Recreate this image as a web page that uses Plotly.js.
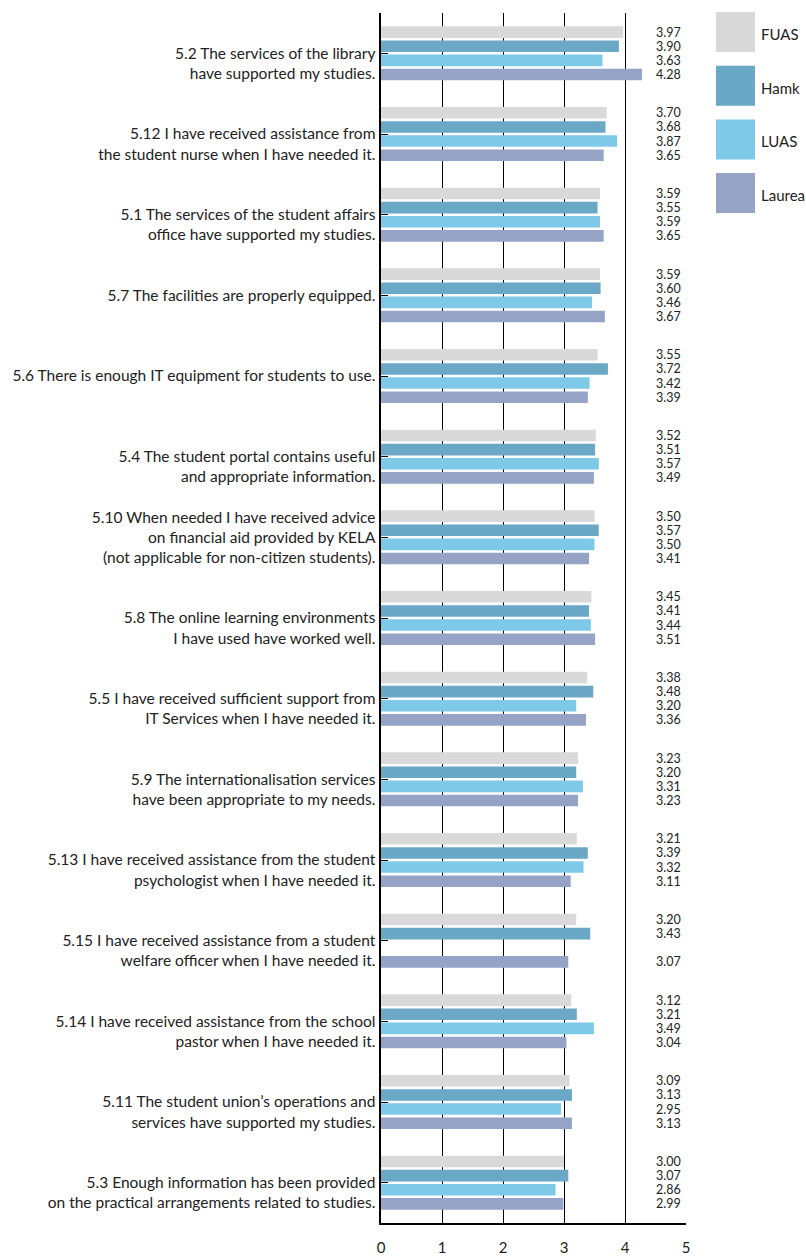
<!DOCTYPE html>
<html>
<head>
<meta charset="utf-8">
<script src="https://cdn.plot.ly/plotly-3.0.1.min.js"></script>
<style>html,body{margin:0;padding:0;background:#fff;}#chart{width:806px;height:1256px;}</style>
</head>
<body>
<div id="chart"></div>
<script>
const categories = ["5.2","5.12","5.1","5.7","5.6","5.4","5.10","5.8","5.5","5.9","5.13","5.15","5.14","5.11","5.3"];
const labels = [
  "5.2 The services of the library<br>have supported my studies.",
  "5.12 I have received assistance from<br>the student nurse when I have needed it.",
  "5.1 The services of the student affairs<br>office have supported my studies.",
  "5.7 The facilities are properly equipped.",
  "5.6 There is enough IT equipment for students to use.",
  "5.4 The student portal contains useful<br>and appropriate information.",
  "5.10 When needed I have received advice<br>on financial aid provided by KELA<br>(not applicable for non-citizen students).",
  "5.8 The online learning environments<br>I have used have worked well.",
  "5.5 I have received sufficient support from<br>IT Services when I have needed it.",
  "5.9 The internationalisation services<br>have been appropriate to my needs.",
  "5.13 I have received assistance from the student<br>psychologist when I have needed it.",
  "5.15 I have received assistance from a student<br>welfare officer when I have needed it.",
  "5.14 I have received assistance from the school<br>pastor when I have needed it.",
  "5.11 The student union’s operations and<br>services have supported my studies.",
  "5.3 Enough information has been provided<br>on the practical arrangements related to studies."
];
const seriesNames = ["FUAS","Hamk","LUAS","Laurea"];
const FUAS   = [3.97,3.70,3.59,3.59,3.55,3.52,3.50,3.45,3.38,3.23,3.21,3.20,3.12,3.09,3.00];
const Hamk   = [3.90,3.68,3.55,3.60,3.72,3.51,3.57,3.41,3.48,3.20,3.39,3.43,3.21,3.13,3.07];
const LUAS   = [3.63,3.87,3.59,3.46,3.42,3.57,3.50,3.44,3.20,3.31,3.32,null,3.49,2.95,2.86];
const Laurea = [4.28,3.65,3.65,3.67,3.39,3.49,3.41,3.51,3.36,3.23,3.11,3.07,3.04,3.13,2.99];
const xTicks = [0,1,2,3,4,5];
const colors = ["#d9d9d9","#6aa8c6","#7ec8e8","#94a3c6"];

const seriesValues = [FUAS,Hamk,LUAS,Laurea];
const FONT = "Lato, 'Open Sans', sans-serif";

// two-line labels get a leading blank line so the first line sits at the group centre
const tickText = labels.map(l => {
  const n = l.split("<br>").length;
  return n === 2 ? " <br>" + l : l;
});

const traces = seriesValues.map((vals, k) => ({
  type: "bar",
  orientation: "h",
  name: seriesNames[k],
  x: vals,
  y: categories,
  marker: {color: colors[k], line: {width: 0}},
  hoverinfo: "x+name",
  showlegend: false
}));

const annotations = [];
const slot = 1210 / categories.length * 0.7 / 4;
seriesValues.forEach((vals, k) => {
  vals.forEach((v, i) => {
    if (v === null) return;
    annotations.push({
      x: 4.955, y: i, xref: "x", yref: "y",
      text: v.toFixed(2), showarrow: false,
      xanchor: "right", yanchor: "middle",
      yshift: (1.5 - k) * slot,
      font: {family: FONT, size: 12.5, color: "#222"}
    });
  });
});

const shapes = [];
seriesNames.forEach((name, k) => {
  const top = 12 + k * 53.7;
  shapes.push({
    type: "rect", xref: "paper", yref: "paper",
    x0: (716 - 381) / 305, x1: (755 - 381) / 305,
    y0: 1 - (top - 13) / 1210, y1: 1 - (top + 40 - 13) / 1210,
    fillcolor: colors[k], line: {width: 0}
  });
  annotations.push({
    xref: "paper", yref: "paper",
    x: (759 - 381) / 305, y: 1 - (top + 22 - 13) / 1210,
    text: name, showarrow: false, xanchor: "left", yanchor: "middle",
    font: {family: FONT, size: 15, color: "#222"}
  });
});

const layout = {
  width: 806, height: 1256,
  margin: {l: 381, r: 120, t: 13, b: 33, pad: 0},
  paper_bgcolor: "#fff", plot_bgcolor: "#fff",
  barmode: "group", bargap: 0.3, bargroupgap: 0.18,
  font: {family: FONT, size: 14, color: "#222"},
  xaxis: {
    range: [0, 5], tickvals: xTicks, ticktext: xTicks.map(String),
    showgrid: true, gridcolor: "#000", gridwidth: 1,
    zeroline: false,
    showline: true, linecolor: "#000", linewidth: 2,
    ticks: "", ticklabelstandoff: 10,
    tickfont: {family: FONT, size: 15, color: "#222"},
    fixedrange: true
  },
  yaxis: {
    type: "category", autorange: "reversed",
    tickvals: categories, ticktext: tickText,
    showline: true, linecolor: "#000", linewidth: 2.5,
    showgrid: false, zeroline: false,
    ticks: "inside", ticklen: 7, tickcolor: "#000", tickwidth: 1,
    ticklabelstandoff: 0,
    tickfont: {family: FONT, size: 15.5, color: "#222"},
    fixedrange: true
  },
  shapes: shapes,
  annotations: annotations
};

Plotly.newPlot("chart", traces, layout, {displayModeBar: false, staticPlot: true});
</script>
</body>
</html>
